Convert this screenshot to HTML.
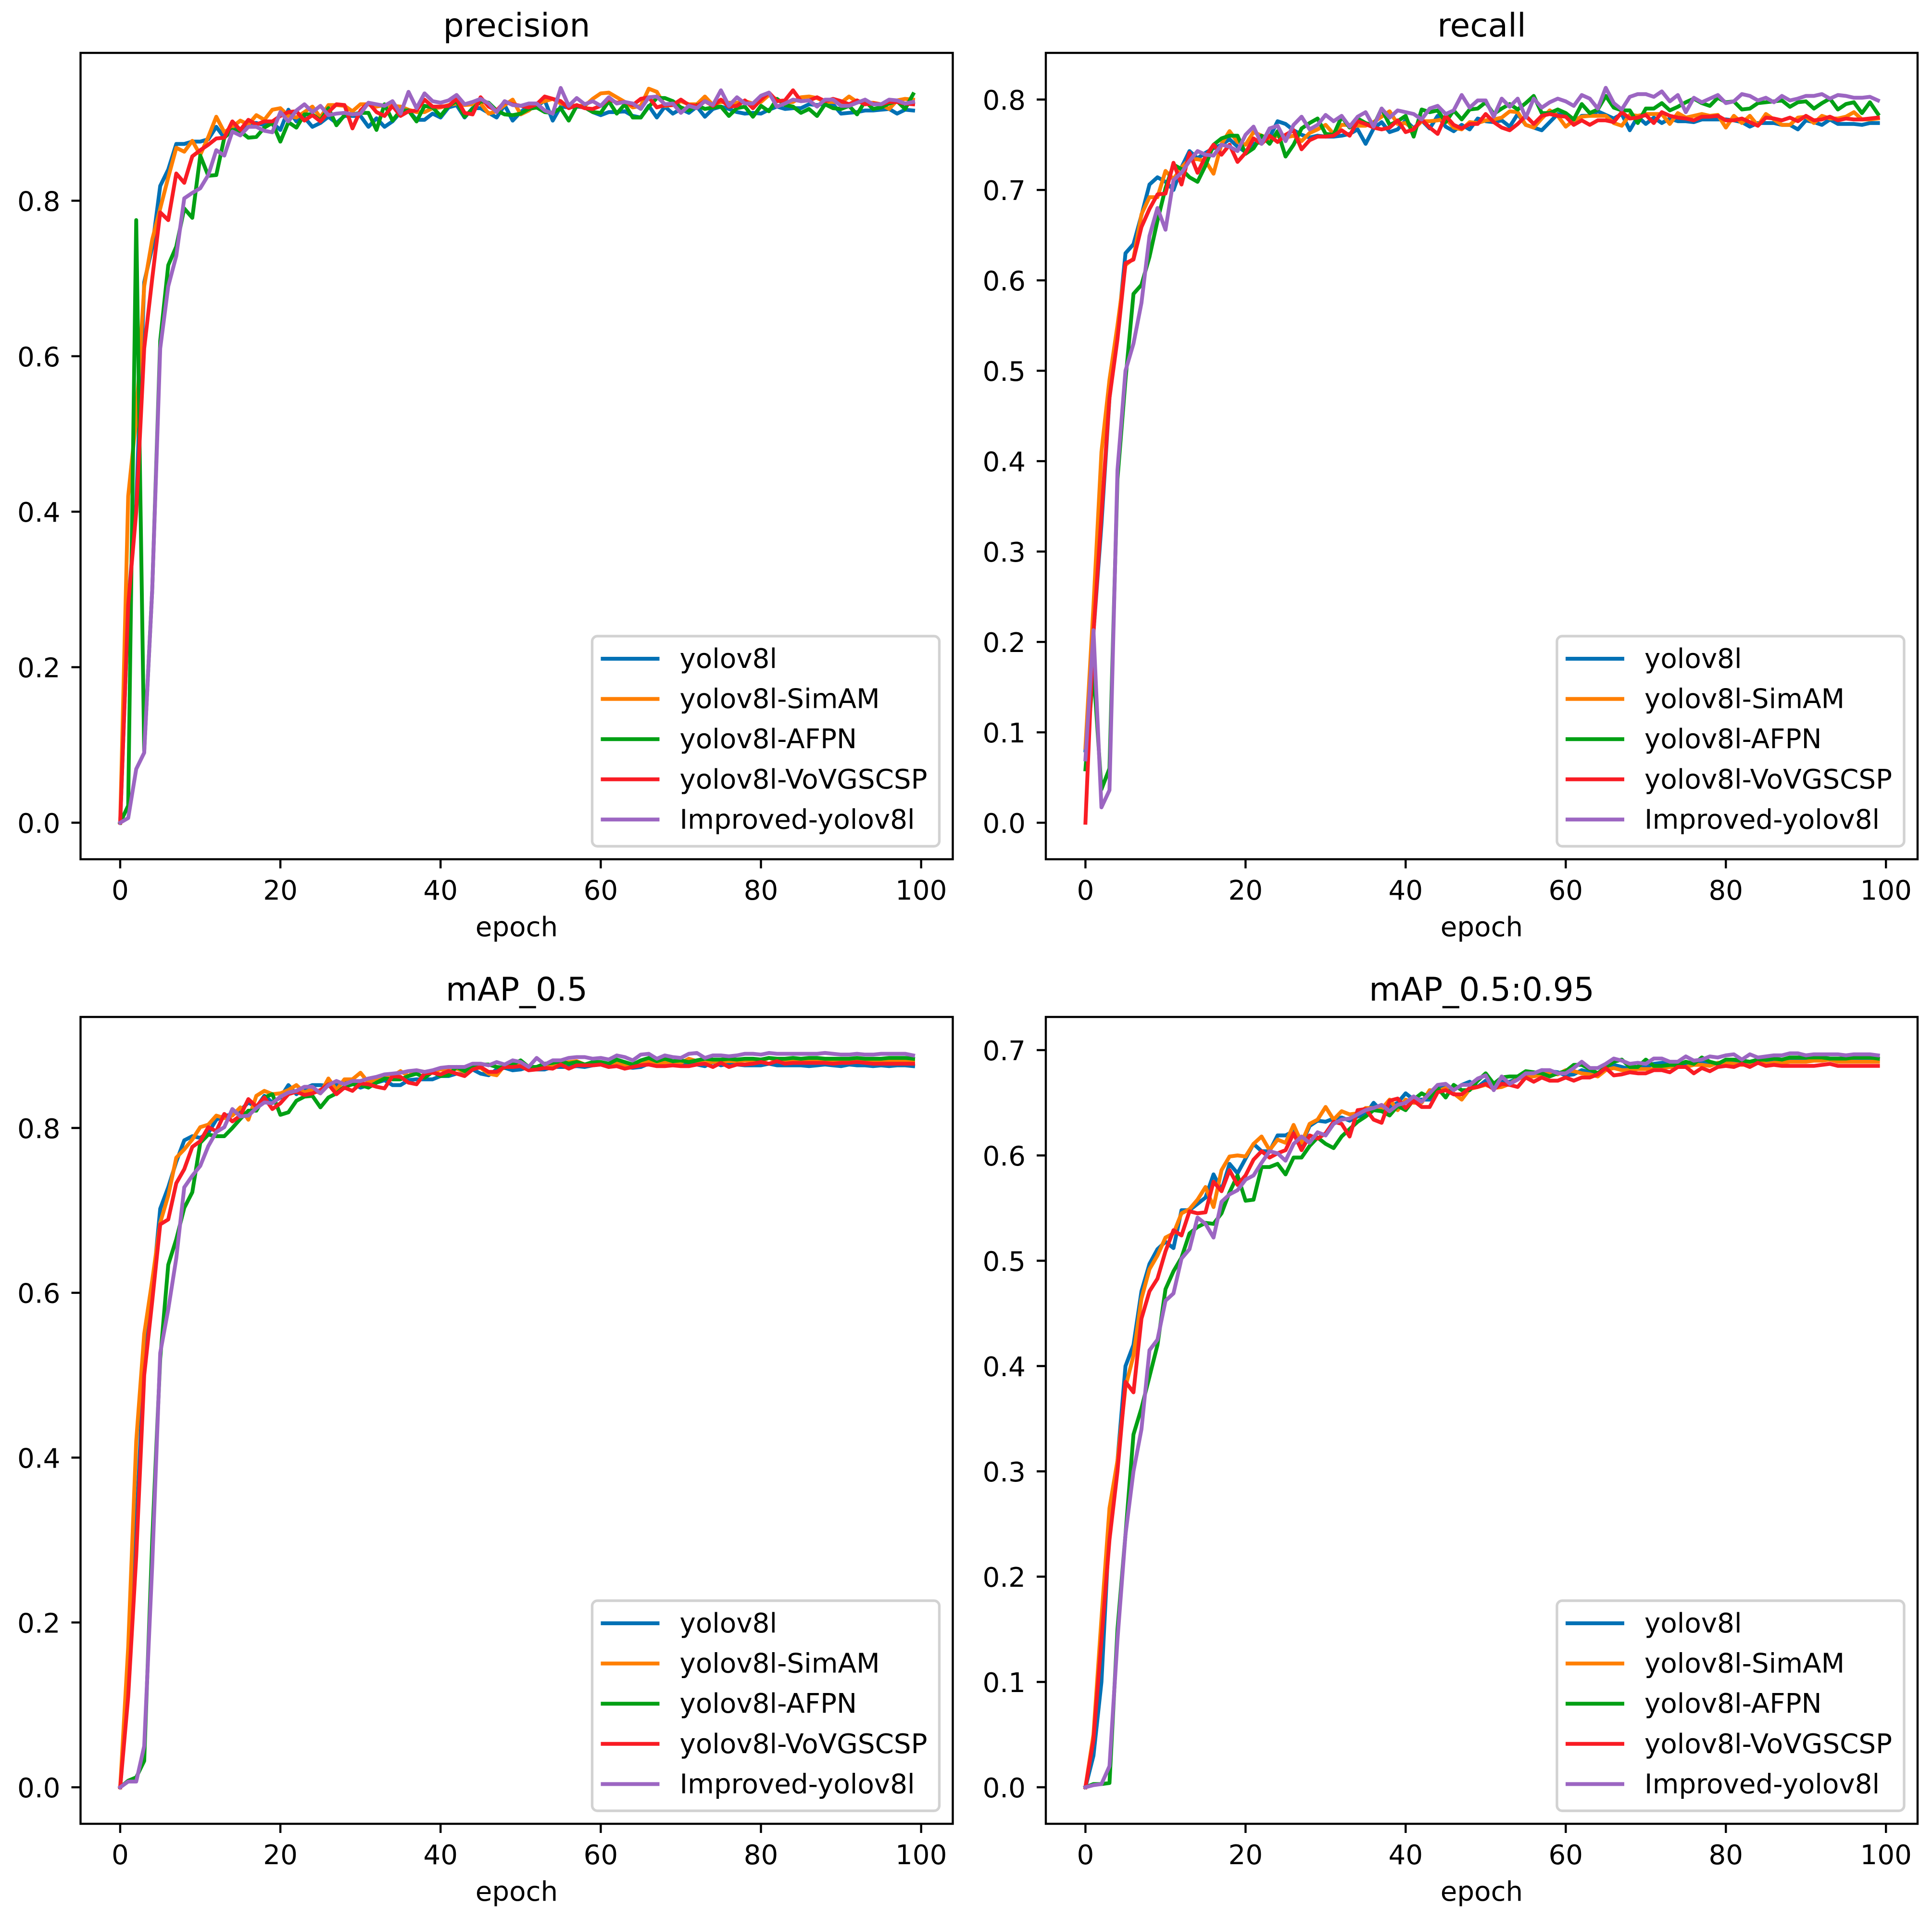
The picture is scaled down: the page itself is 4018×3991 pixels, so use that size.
<!DOCTYPE html>
<html lang="en">
<head>
<meta charset="utf-8">
<title>YOLOv8l training metrics</title>
<style>
html,body{margin:0;padding:0;background:#fff;}
svg{display:block;}
text{font-family:"DejaVu Sans","Liberation Sans",sans-serif;fill:#000;}
</style>
</head>
<body>
<svg id="chart" xmlns="http://www.w3.org/2000/svg" width="4018" height="3991" viewBox="0 0 4018 3991"></svg>
<script>
const seriesNames = ['yolov8l','yolov8l-SimAM','yolov8l-AFPN','yolov8l-VoVGSCSP','Improved-yolov8l'];
const xTickValues = [0,20,40,60,80,100];
const precisionTicks = [0,0.2,0.4,0.6,0.8];
const recallTicks = [0,0.1,0.2,0.3,0.4,0.5,0.6,0.7,0.8];
const map50Ticks = [0,0.2,0.4,0.6,0.8];
const map95Ticks = [0,0.1,0.2,0.3,0.4,0.5,0.6,0.7];

const precisionYolov8l = [
0,.28,.41,.695,.74,.819,.84,.873,.873,.876,
.876,.879,.895,.881,.893,.89,.90,.90,.897,.90,
.891,.917,.902,.907,.895,.90,.908,.90,.909,.909,
.909,.895,.906,.895,.902,.914,.916,.904,.904,.912,
.907,.92,.923,.907,.919,.919,.913,.907,.923,.903,
.914,.922,.921,.929,.903,.921,.92,.921,.92,.914,
.91,.914,.914,.915,.909,.907,.922,.907,.921,.912,
.918,.913,.921,.908,.918,.921,.918,.914,.912,.913,
.912,.917,.921,.918,.919,.919,.924,.923,.925,.924,
.912,.913,.914,.916,.916,.917,.918,.912,.917,.916];
const precisionSimAM = [
0,.42,.52,.69,.75,.79,.83,.868,.863,.877,
.859,.882,.908,.888,.895,.903,.898,.91,.904,.917,
.919,.909,.907,.914,.921,.907,.923,.923,.922,.915,
.924,.924,.921,.923,.922,.921,.917,.914,.914,.919,
.92,.923,.925,.923,.924,.925,.912,.915,.923,.93,
.911,.916,.925,.928,.931,.925,.923,.922,.922,.931,
.938,.939,.933,.927,.92,.922,.944,.94,.922,.923,
.928,.924,.924,.934,.923,.927,.926,.926,.928,.925,
.927,.936,.93,.926,.927,.933,.934,.932,.927,.927,
.926,.934,.927,.926,.926,.924,.918,.929,.931,.93];
const precisionAFPN = [
0,.022,.775,.092,.30,.62,.717,.741,.79,.778,
.858,.832,.833,.881,.891,.889,.881,.882,.894,.90,
.876,.901,.894,.911,.911,.903,.919,.897,.91,.911,
.913,.913,.891,.924,.903,.916,.916,.902,.922,.92,
.909,.922,.928,.908,.918,.928,.926,.916,.911,.91,
.912,.918,.92,.914,.913,.919,.903,.922,.92,.914,
.913,.928,.912,.924,.907,.907,.921,.932,.932,.928,
.92,.916,.923,.918,.92,.921,.909,.919,.921,.908,
.922,.915,.931,.923,.921,.913,.918,.909,.924,.919,
.918,.922,.911,.928,.918,.92,.925,.928,.918,.937];
const precisionVoVGSCSP = [
0,.28,.40,.61,.70,.785,.775,.835,.823,.857,
.865,.872,.88,.881,.902,.891,.904,.898,.902,.902,
.909,.914,.915,.903,.91,.902,.914,.924,.923,.893,
.916,.926,.914,.909,.922,.909,.915,.916,.93,.921,
.921,.922,.931,.913,.911,.933,.921,.916,.927,.924,
.922,.92,.924,.934,.931,.928,.919,.923,.919,.918,
.922,.931,.926,.927,.923,.931,.933,.92,.923,.923,
.93,.923,.922,.928,.922,.93,.921,.922,.929,.919,
.93,.939,.928,.929,.942,.928,.929,.933,.928,.931,
.928,.924,.929,.924,.925,.924,.927,.927,.925,.924];
const precisionImproved = [
0,.006,.069,.09,.30,.61,.69,.729,.803,.81,
.816,.833,.865,.858,.889,.884,.895,.895,.89,.888,
.914,.902,.916,.924,.914,.922,.91,.912,.913,.911,
.912,.926,.924,.922,.928,.912,.94,.919,.938,.928,
.926,.929,.936,.924,.927,.931,.925,.914,.928,.923,
.922,.925,.925,.916,.912,.945,.922,.932,.924,.928,
.922,.933,.925,.927,.925,.918,.933,.934,.924,.925,
.913,.922,.919,.928,.923,.942,.922,.933,.925,.925,
.935,.939,.921,.925,.93,.928,.929,.921,.93,.93,
.922,.922,.926,.93,.924,.924,.93,.929,.925,.927];

const recallYolov8l = [
.08,.21,.33,.47,.54,.63,.64,.672,.706,.714,
.709,.70,.725,.743,.735,.741,.746,.75,.756,.748,
.742,.751,.753,.758,.776,.773,.766,.761,.758,.76,
.759,.759,.76,.762,.767,.751,.768,.775,.764,.767,
.777,.768,.777,.768,.782,.77,.765,.772,.767,.779,
.776,.775,.777,.77,.784,.772,.769,.766,.775,.784,
.782,.774,.782,.782,.787,.783,.779,.784,.766,.781,
.773,.78,.774,.779,.776,.776,.775,.778,.778,.778,
.778,.777,.775,.77,.774,.774,.774,.772,.772,.767,
.777,.775,.772,.778,.773,.773,.773,.772,.774,.774];
const recallSimAM = [
.083,.24,.41,.49,.55,.617,.624,.673,.692,.692,
.721,.712,.725,.734,.734,.732,.718,.751,.765,.753,
.75,.764,.76,.757,.76,.758,.76,.754,.763,.767,
.772,.762,.772,.772,.771,.771,.775,.781,.787,.773,
.774,.767,.776,.776,.777,.779,.769,.767,.775,.774,
.777,.778,.78,.787,.786,.772,.769,.779,.788,.782,
.77,.777,.781,.782,.782,.782,.774,.771,.783,.782,
.784,.784,.784,.773,.785,.78,.782,.784,.782,.783,
.769,.782,.774,.782,.771,.784,.778,.772,.772,.78,
.781,.774,.782,.779,.779,.781,.786,.778,.778,.779];
const recallAFPN = [
.059,.17,.037,.06,.38,.49,.585,.595,.626,.666,
.702,.728,.723,.714,.709,.727,.75,.757,.76,.76,
.74,.746,.76,.751,.765,.737,.75,.768,.774,.779,
.762,.761,.781,.769,.779,.774,.771,.79,.772,.776,
.782,.759,.789,.786,.788,.775,.788,.778,.789,.79,
.797,.784,.79,.795,.789,.796,.804,.785,.785,.789,
.785,.778,.795,.785,.789,.804,.791,.788,.788,.774,
.79,.79,.796,.788,.792,.797,.801,.796,.793,.802,
.797,.798,.789,.79,.796,.797,.798,.799,.792,.797,
.798,.79,.796,.801,.789,.795,.797,.785,.797,.784];
const recallVoVGSCSP = [
0,.21,.34,.47,.535,.619,.623,.659,.679,.695,
.696,.73,.706,.741,.719,.737,.75,.739,.75,.731,
.741,.757,.751,.76,.753,.761,.766,.745,.755,.759,
.759,.76,.766,.76,.776,.773,.769,.767,.769,.777,
.764,.767,.778,.769,.762,.782,.772,.768,.773,.773,
.784,.775,.769,.766,.773,.782,.773,.782,.784,.782,
.781,.772,.777,.772,.777,.777,.775,.786,.779,.78,
.783,.774,.786,.782,.78,.779,.777,.781,.781,.782,
.777,.777,.779,.775,.771,.78,.779,.777,.78,.776,
.782,.777,.778,.781,.777,.779,.778,.778,.779,.78];
const recallImproved = [
.07,.213,.017,.036,.39,.50,.53,.575,.649,.68,
.656,.711,.719,.732,.743,.739,.738,.75,.748,.743,
.761,.77,.751,.768,.771,.754,.772,.781,.767,.772,
.783,.776,.782,.77,.781,.786,.77,.79,.78,.788,
.786,.784,.778,.79,.793,.784,.788,.805,.791,.799,
.799,.781,.801,.792,.801,.78,.801,.791,.797,.801,
.798,.793,.805,.801,.79,.813,.796,.789,.803,.806,
.806,.803,.809,.798,.805,.786,.802,.797,.801,.805,
.796,.798,.806,.804,.799,.802,.797,.804,.799,.801,
.804,.804,.806,.801,.805,.804,.802,.802,.803,.799];

const map50Yolov8l = [
0,.12,.31,.52,.60,.702,.728,.759,.785,.79,
.788,.794,.81,.815,.816,.821,.831,.825,.839,.831,
.837,.852,.841,.848,.852,.852,.851,.852,.856,.854,
.849,.852,.855,.858,.852,.852,.858,.859,.859,.859,
.863,.863,.866,.864,.871,.866,.864,.871,.873,.87,
.871,.874,.871,.871,.874,.874,.874,.875,.874,.876,
.877,.874,.876,.874,.873,.874,.878,.877,.876,.877,
.876,.877,.877,.875,.88,.876,.878,.877,.876,.876,
.876,.878,.876,.876,.876,.876,.875,.876,.877,.876,
.875,.877,.876,.876,.875,.876,.875,.876,.876,.875];
const map50SimAM = [
0,.17,.42,.55,.615,.685,.718,.764,.774,.786,
.801,.804,.815,.812,.815,.825,.81,.839,.845,.841,
.842,.846,.852,.843,.847,.842,.86,.846,.859,.859,
.867,.855,.86,.863,.863,.869,.863,.87,.868,.868,
.871,.87,.872,.868,.873,.873,.866,.864,.876,.874,
.877,.871,.872,.874,.876,.877,.88,.881,.877,.878,
.879,.877,.88,.876,.875,.88,.881,.879,.879,.878,
.879,.884,.881,.879,.88,.881,.881,.881,.882,.882,
.881,.885,.882,.881,.882,.881,.882,.881,.881,.882,
.881,.881,.882,.881,.881,.881,.881,.882,.881,.881];
const map50AFPN = [
0,.008,.012,.032,.30,.52,.634,.665,.703,.722,
.782,.792,.79,.79,.80,.811,.821,.821,.837,.841,
.816,.819,.833,.838,.839,.825,.837,.842,.85,.853,
.852,.849,.855,.86,.859,.859,.863,.866,.861,.868,
.863,.864,.874,.869,.876,.877,.877,.874,.873,.877,
.882,.874,.874,.878,.879,.881,.878,.88,.877,.88,
.88,.878,.883,.88,.877,.882,.885,.881,.884,.881,
.882,.88,.882,.884,.883,.883,.884,.883,.884,.884,
.883,.885,.884,.884,.885,.884,.885,.885,.884,.884,
.884,.884,.885,.884,.884,.884,.885,.885,.885,.884];
const map50VoVGSCSP = [
0,.11,.28,.50,.59,.683,.689,.733,.75,.777,
.784,.801,.796,.817,.808,.815,.835,.826,.837,.823,
.83,.841,.844,.84,.842,.846,.853,.841,.849,.845,
.854,.853,.85,.848,.863,.862,.855,.853,.866,.867,
.865,.869,.866,.863,.871,.874,.868,.868,.874,.874,
.875,.87,.871,.873,.872,.877,.872,.876,.876,.876,
.877,.874,.875,.872,.874,.876,.877,.875,.875,.876,
.875,.875,.877,.878,.874,.879,.874,.877,.877,.878,
.88,.878,.881,.878,.879,.879,.879,.879,.879,.878,
.879,.879,.88,.879,.878,.878,.878,.878,.878,.878];
const map50Improved = [
0,.007,.007,.05,.27,.527,.58,.642,.728,.742,
.754,.778,.795,.801,.823,.814,.815,.824,.831,.83,
.838,.843,.845,.85,.85,.842,.852,.857,.853,.857,
.857,.86,.862,.865,.866,.867,.869,.87,.868,.87,
.873,.874,.874,.874,.878,.878,.876,.88,.877,.882,
.88,.874,.885,.877,.882,.882,.885,.886,.886,.884,
.885,.883,.888,.886,.882,.889,.89,.884,.888,.886,
.885,.89,.891,.885,.888,.888,.887,.888,.89,.89,
.889,.891,.89,.89,.89,.89,.89,.89,.891,.89,
.889,.889,.89,.889,.889,.89,.89,.89,.89,.888];

const map95Yolov8l = [
0,.03,.10,.25,.31,.40,.42,.471,.497,.511,
.518,.512,.548,.548,.554,.56,.582,.567,.592,.583,
.597,.611,.604,.604,.619,.619,.623,.611,.628,.633,
.632,.635,.636,.633,.637,.639,.65,.642,.646,.65,
.659,.653,.653,.653,.664,.665,.662,.667,.67,.665,
.671,.667,.67,.67,.673,.676,.678,.681,.68,.679,
.676,.677,.681,.679,.678,.682,.686,.684,.682,.684,
.684,.687,.688,.686,.687,.687,.687,.688,.688,.687,
.689,.689,.688,.689,.69,.689,.69,.69,.69,.691,
.69,.691,.691,.691,.691,.691,.691,.691,.691,.691];
const map95SimAM = [
0,.05,.16,.265,.31,.38,.41,.464,.492,.505,
.522,.526,.545,.549,.558,.57,.551,.586,.599,.60,
.599,.611,.618,.605,.615,.612,.629,.612,.63,.634,
.646,.634,.642,.639,.64,.645,.645,.644,.653,.643,
.653,.65,.65,.662,.661,.664,.659,.653,.663,.665,
.667,.664,.665,.668,.673,.674,.675,.677,.678,.677,
.681,.68,.678,.677,.675,.681,.683,.681,.681,.682,
.682,.682,.683,.684,.684,.684,.686,.686,.685,.688,
.688,.687,.686,.687,.689,.687,.688,.688,.689,.689,
.689,.69,.69,.691,.689,.689,.689,.689,.689,.689];
const map95AFPN = [
0,.003,.003,.004,.15,.24,.335,.36,.39,.42,
.473,.49,.503,.526,.532,.536,.535,.545,.565,.581,
.557,.558,.589,.589,.592,.582,.598,.598,.609,.617,
.611,.607,.618,.625,.632,.637,.643,.642,.638,.647,
.643,.653,.659,.655,.664,.655,.667,.662,.662,.671,
.678,.668,.674,.675,.675,.68,.679,.678,.675,.678,
.68,.686,.686,.682,.678,.684,.689,.691,.684,.684,
.691,.685,.685,.686,.686,.689,.687,.693,.689,.687,
.691,.691,.69,.689,.691,.691,.692,.691,.693,.693,
.693,.693,.693,.692,.692,.692,.693,.693,.693,.692];
const map95VoVGSCSP = [
0,.045,.14,.235,.30,.385,.375,.445,.471,.483,
.509,.529,.524,.547,.545,.546,.575,.566,.586,.572,
.581,.596,.604,.598,.602,.605,.621,.605,.619,.616,
.621,.632,.63,.618,.643,.644,.634,.631,.652,.654,
.645,.652,.646,.646,.66,.662,.658,.658,.664,.665,
.668,.663,.668,.667,.665,.674,.67,.674,.671,.671,
.674,.671,.674,.674,.677,.683,.676,.677,.679,.678,
.678,.681,.681,.679,.684,.684,.678,.683,.68,.684,
.685,.684,.687,.684,.688,.685,.686,.685,.685,.685,
.685,.685,.686,.687,.685,.685,.685,.685,.685,.685];
const map95Improved = [
0,.002,.003,.02,.14,.24,.30,.34,.415,.425,
.462,.469,.502,.511,.541,.535,.522,.556,.563,.567,
.577,.581,.593,.604,.602,.595,.611,.618,.612,.622,
.619,.63,.634,.635,.639,.643,.645,.648,.642,.648,
.65,.656,.651,.659,.667,.668,.662,.667,.667,.673,
.676,.662,.675,.668,.672,.678,.678,.681,.681,.678,
.678,.683,.689,.683,.683,.687,.692,.69,.687,.688,
.687,.692,.692,.689,.689,.694,.69,.691,.694,.693,
.695,.696,.691,.696,.693,.694,.695,.695,.697,.697,
.695,.696,.696,.696,.696,.695,.696,.696,.696,.695];

const seriesColors = ['#0071b5','#ff7f00','#00a014','#f91c24','#9c66c2'];
const svg = document.getElementById('chart');
const NS = 'http://www.w3.org/2000/svg';

function make(parent, tag, attrs, content) {
  const el = document.createElementNS(NS, tag);
  for (const k in attrs) el.setAttribute(k, attrs[k]);
  if (content !== undefined) el.textContent = content;
  parent.appendChild(el);
  return el;
}

const panelSpecs = [
  {key:'precision', title:'precision', left:167.5, right:1981.5, top:110, bottom:1787, yMin:-0.047, yMax:0.9901, ticks:precisionTicks,
   series:[precisionYolov8l,precisionSimAM,precisionAFPN,precisionVoVGSCSP,precisionImproved]},
  {key:'recall', title:'recall', left:2175, right:3988, top:110, bottom:1787, yMin:-0.0404, yMax:0.8516, ticks:recallTicks,
   series:[recallYolov8l,recallSimAM,recallAFPN,recallVoVGSCSP,recallImproved]},
  {key:'map50', title:'mAP_0.5', left:167.5, right:1981.5, top:2115, bottom:3793, yMin:-0.0443, yMax:0.9347, ticks:map50Ticks,
   series:[map50Yolov8l,map50SimAM,map50AFPN,map50VoVGSCSP,map50Improved]},
  {key:'map95', title:'mAP_0.5:0.95', left:2175, right:3988, top:2115, bottom:3793, yMin:-0.0347, yMax:0.7315, ticks:map95Ticks,
   series:[map95Yolov8l,map95SimAM,map95AFPN,map95VoVGSCSP,map95Improved]}
];

const xMin = -4.95, xMax = 103.95;
const SPINE = 4.4, TICK = 19, FONT = 56.3, TITLE_FONT = 67.8, LINE = 8;

panelSpecs.forEach(function (p) {
  const xScale = function (v) { return p.left + (v - xMin) / (xMax - xMin) * (p.right - p.left); };
  const yScale = function (v) { return p.bottom - (v - p.yMin) / (p.yMax - p.yMin) * (p.bottom - p.top); };

  const g = make(svg, 'g', {});
  
  

  const title = make(g, 'text', {x:(p.left + p.right) / 2, y:p.top - 34, 'text-anchor':'middle', 'font-size':TITLE_FONT}, p.title);
  
  

  p.series.forEach(function (values, s) {
    const pts = values.map(function (v, i) { return xScale(i).toFixed(1) + ',' + yScale(v).toFixed(1); }).join(' ');
    const line = make(g, 'polyline', {points:pts, fill:'none', stroke:seriesColors[s], 'stroke-width':LINE, 'stroke-linejoin':'round', 'stroke-linecap':'square'});
    
    
  });

  const frame = make(g, 'rect', {x:p.left, y:p.top, width:p.right - p.left, height:p.bottom - p.top, fill:'none', stroke:'#000', 'stroke-width':SPINE});
  
  

  xTickValues.forEach(function (t) {
    const x = xScale(t);
    const tick = make(g, 'line', {x1:x, x2:x, y1:p.bottom, y2:p.bottom + TICK, stroke:'#000', 'stroke-width':SPINE});
    
    
    const lab = make(g, 'text', {x:x, y:p.bottom + 84, 'text-anchor':'middle', 'font-size':FONT}, String(t));
    
    
  });

  p.ticks.forEach(function (t) {
    const y = yScale(t);
    const tick = make(g, 'line', {x1:p.left - TICK, x2:p.left, y1:y, y2:y, stroke:'#000', 'stroke-width':SPINE});
    
    
    const lab = make(g, 'text', {x:p.left - 42, y:y + 21, 'text-anchor':'end', 'font-size':FONT}, t.toFixed(1));
    
    
  });

  const xTitle = make(g, 'text', {x:(p.left + p.right) / 2, y:p.bottom + 160, 'text-anchor':'middle', 'font-size':FONT}, 'epoch');
  
  

  const legend = make(g, 'g', {});
  
  

  const box = make(legend, 'rect', {x:p.right - 750, y:p.bottom - 464, width:722, height:437, rx:11, ry:11, fill:'#fff', stroke:'#d2d2d2', 'stroke-width':5.4});
  
  

  seriesNames.forEach(function (name, s) {
    const rowY = p.bottom - 417 + s * 83.6;
    const handle = make(legend, 'line', {x1:p.right - 732, x2:p.right - 610, y1:rowY, y2:rowY, stroke:seriesColors[s], 'stroke-width':LINE});
    
    
    const label = make(legend, 'text', {x:p.right - 568, y:rowY + 19, 'font-size':FONT}, name);
    
    
  });
});
</script>
</body>
</html>
